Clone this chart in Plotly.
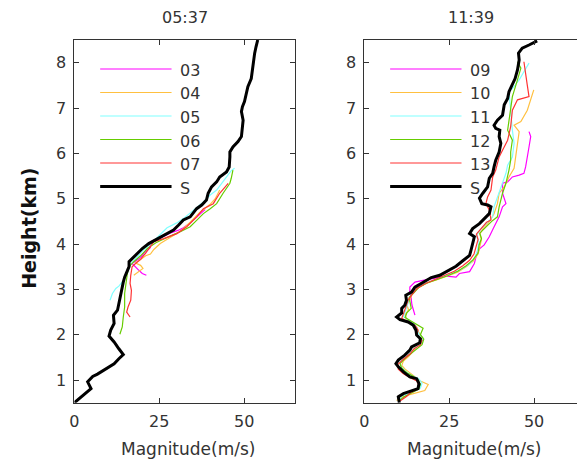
import plotly.graph_objects as go

# ---- profile data (magnitude in m/s vs height in km) ----
# Panel 05:37
s1_x = [0, 2.4, 4.9, 3.9, 5.4, 6.8, 8.8, 11.7, 13.1, 14.4, 13.1, 11.7, 10.2, 10.7, 11.7, 11.5, 12.7, 13.1, 13.6, 13.8,
        14.4, 14.8, 15.6, 16.1, 16.1, 17.0, 18.5, 20.0, 21.9, 23.4, 25.3, 27.3, 29.2, 30.7, 32.1, 34.1, 36.0, 37.5, 38.9, 39.4,
        40.4, 41.9, 42.8, 44.8, 45.6, 45.8, 45.8, 46.7, 48.2, 49.2, 49.5, 49.7, 49.2, 49.5, 50.1, 50.6, 51.1, 52.1, 52.4, 52.8,
        53.1, 53.5, 54.0]
s1_y = [0.5, 0.66, 0.81, 0.96, 1.08, 1.13, 1.22, 1.36, 1.47, 1.56, 1.69, 1.84, 1.97, 2.10, 2.25, 2.43, 2.54, 2.69, 2.83, 2.98,
        3.16, 3.27, 3.39, 3.50, 3.61, 3.68, 3.79, 3.90, 4.01, 4.07, 4.16, 4.23, 4.31, 4.42, 4.53, 4.60, 4.78, 4.86, 4.97, 5.12,
        5.26, 5.37, 5.48, 5.59, 5.70, 5.92, 6.03, 6.14, 6.26, 6.37, 6.59, 6.73, 6.92, 7.03, 7.14, 7.29, 7.47, 7.65, 7.84, 8.02,
        8.21, 8.35, 8.5]

p03_x = [21.2, 20.0, 19.0, 17.7, 17.0, 18.0, 19.5, 20.5, 22.4, 22.0, 23.0, 25.5, 28.2, 30.5, 32.1, 34.0, 35.5, 37.0, 38.5]
p03_y = [3.31, 3.35, 3.42, 3.51, 3.57, 3.62, 3.70, 3.80, 3.92, 4.02, 4.07, 4.14, 4.24, 4.30, 4.36, 4.46, 4.55, 4.66, 4.76]

p04_x = [17.5, 19.0, 20.2, 19.5, 18.0, 19.5, 21.0, 22.4, 23.4, 25.3, 28.2, 31.2, 34.1, 37.0, 39.9, 41.5, 42.8]
p04_y = [3.31, 3.39, 3.46, 3.53, 3.58, 3.66, 3.74, 3.78, 3.88, 4.01, 4.14, 4.28, 4.48, 4.70, 4.87, 5.00, 5.19]

p05_x = [10.5, 11.2, 12.2, 13.1, 14.5, 15.8, 16.5, 18.0, 20.5, 23.0, 25.5, 27.3, 30.0, 32.1, 35.0, 38.0, 40.0, 41.9,
         43.5, 44.8, 46.2, 47.2]
p05_y = [2.76, 2.91, 3.02, 3.07, 3.20, 3.40, 3.55, 3.68, 3.88, 4.04, 4.22, 4.36, 4.46, 4.56, 4.74, 4.93, 5.08, 5.19,
         5.35, 5.48, 5.62, 5.67]

p06_x = [13.4, 14.1, 14.4, 14.8, 14.8, 15.1, 15.6, 16.1, 17.5, 19.5, 21.5, 24.0, 27.0, 29.5, 31.2, 34.1, 36.0, 38.0,
         40.0, 41.9, 43.8, 45.8, 46.2, 46.7]
p06_y = [2.01, 2.17, 2.39, 2.61, 2.91, 3.13, 3.35, 3.50, 3.61, 3.74, 3.90, 4.03, 4.14, 4.22, 4.27, 4.38, 4.52, 4.67,
         4.78, 4.89, 5.12, 5.34, 5.45, 5.63]

p07_x = [16.4, 15.4, 15.8, 16.6, 16.8, 16.4, 16.6, 17.0, 18.0, 19.5, 21.0, 22.5, 23.4, 26.3, 30.2, 33.1, 36.0, 38.0,
         40.9, 42.8, 45.3]
p07_y = [2.39, 2.50, 2.61, 2.76, 2.98, 3.13, 3.31, 3.50, 3.57, 3.66, 3.80, 3.96, 4.05, 4.12, 4.23, 4.38, 4.60, 4.78,
         4.89, 5.12, 5.34]

# Panel 11:39
s2_x = [10.3, 10.0, 11.5, 13.9, 15.8, 16.1, 15.4, 13.4, 11.5, 10.0, 9.3, 10.0, 11.9, 13.4, 13.9, 16.3, 16.5, 15.4, 15.2, 14.4,
        12.9, 10.5, 9.5, 11.0, 11.0, 11.9, 12.4, 12.2, 13.9, 14.9, 17.3, 19.7, 22.2, 24.6, 27.0, 29.0, 31.0, 31.4, 31.9, 32.4,
        31.0, 31.9, 33.9, 35.3, 36.8, 37.3, 36.3, 34.6, 33.9, 34.9, 36.3, 36.8, 37.8, 38.2, 38.7, 39.7, 40.2, 39.7, 39.9, 38.7,
        38.2, 39.2, 40.7, 41.2, 42.2, 42.6, 43.6, 44.4, 45.1, 45.6, 45.4, 46.5, 48.5, 50.9]
s2_y = [0.5, 0.63, 0.70, 0.76, 0.81, 0.92, 1.03, 1.07, 1.18, 1.29, 1.36, 1.44, 1.55, 1.66, 1.73, 1.82, 1.91, 1.99, 2.10, 2.21,
        2.28, 2.33, 2.39, 2.48, 2.58, 2.65, 2.76, 2.87, 2.94, 3.05, 3.16, 3.26, 3.31, 3.41, 3.51, 3.63, 3.75, 3.86, 4.01, 4.16,
        4.23, 4.34, 4.45, 4.56, 4.67, 4.82, 4.86, 4.89, 5.01, 5.12, 5.26, 5.45, 5.56, 5.70, 5.85, 6.03, 6.22, 6.37, 6.51, 6.55,
        6.62, 6.73, 6.84, 7.07, 7.21, 7.36, 7.51, 7.65, 7.84, 8.06, 8.21, 8.32, 8.39, 8.48]

p09_x = [14.9, 14.4, 14.0, 13.8, 13.4, 13.4, 14.9, 17.3, 21.2, 24.1, 27.0, 28.0, 31.0, 32.4, 33.0, 34.0, 35.3, 36.8,
         38.0, 39.2, 39.7, 40.7, 41.7, 40.7, 40.7, 42.2, 43.6, 45.6, 47.0, 47.5, 48.0, 48.5, 49.0, 48.5]
p09_y = [2.43, 2.54, 2.66, 2.80, 2.94, 3.05, 3.16, 3.20, 3.26, 3.29, 3.27, 3.35, 3.39, 3.57, 3.75, 3.90, 3.98, 4.16,
         4.35, 4.53, 4.60, 4.82, 4.89, 5.12, 5.34, 5.37, 5.48, 5.52, 5.56, 5.70, 5.89, 6.14, 6.37, 6.48]

p10_x = [9.5, 11.5, 17.8, 18.8, 16.5, 15.0, 13.5, 12.0, 11.0, 11.5, 13.0, 14.5, 15.0, 16.8, 17.0, 16.0, 15.5, 14.5,
         12.5, 12.0, 13.0, 12.5, 13.5, 14.0, 15.5, 18.0, 21.0, 24.0, 27.5, 30.0, 32.0, 33.5, 34.0, 34.5, 34.0, 35.0,
         36.5, 38.2, 39.2, 39.7, 41.2, 42.6, 44.1, 44.6, 45.1, 45.6, 44.1, 46.1, 48.0, 49.0, 49.9]
p10_y = [0.55, 0.64, 0.77, 0.90, 0.98, 1.06, 1.14, 1.24, 1.32, 1.42, 1.52, 1.64, 1.74, 1.84, 1.95, 2.05, 2.16, 2.26,
         2.34, 2.44, 2.55, 2.66, 2.78, 2.90, 3.02, 3.13, 3.20, 3.28, 3.38, 3.50, 3.62, 3.78, 3.95, 4.10, 4.22, 4.34,
         4.46, 4.67, 4.89, 5.12, 5.26, 5.48, 5.67, 5.92, 6.14, 6.48, 6.62, 6.70, 6.95, 7.18, 7.40]

p11_x = [10.5, 11.0, 14.5, 16.5, 17.0, 16.0, 14.0, 12.0, 10.8, 10.5, 12.5, 14.0, 15.0, 17.0, 17.3, 16.0, 15.5, 14.8,
         13.0, 11.5, 12.0, 12.5, 13.0, 13.5, 14.8, 16.5, 19.5, 22.5, 25.5, 28.5, 31.0, 32.5, 33.3, 33.8, 33.0, 34.0,
         35.5, 37.8, 38.2, 39.2, 40.7, 41.7, 42.2, 43.6, 44.1, 43.6, 43.1, 42.6, 43.6, 45.6, 47.0, 48.5]
p11_y = [0.55, 0.65, 0.74, 0.82, 0.93, 1.03, 1.10, 1.20, 1.30, 1.40, 1.52, 1.63, 1.72, 1.82, 1.93, 2.02, 2.14, 2.24,
         2.32, 2.40, 2.50, 2.62, 2.74, 2.85, 2.96, 3.08, 3.18, 3.26, 3.34, 3.44, 3.56, 3.70, 3.86, 4.04, 4.18, 4.30,
         4.42, 4.60, 4.82, 5.04, 5.34, 5.56, 5.74, 5.92, 6.22, 6.51, 6.95, 7.36, 7.43, 7.62, 7.80, 7.99]

p12_x = [10.0, 11.5, 14.0, 16.0, 16.5, 15.8, 14.5, 12.5, 11.0, 10.5, 12.0, 14.0, 15.5, 17.0, 17.5, 16.5, 17.3, 15.5,
         13.8, 12.0, 12.5, 13.8, 13.5, 13.2, 14.5, 16.0, 18.5, 21.5, 24.5, 27.5, 30.0, 32.0, 33.5, 33.8, 34.5, 34.0,
         35.5, 37.5, 39.2, 39.7, 40.7, 41.7, 42.6, 43.1, 43.1, 43.6, 42.2, 42.6, 43.1, 43.6, 45.1, 46.1, 45.1]
p12_y = [0.52, 0.62, 0.72, 0.80, 0.90, 1.00, 1.08, 1.16, 1.26, 1.36, 1.48, 1.60, 1.70, 1.78, 1.90, 2.00, 2.14, 2.22,
         2.30, 2.38, 2.48, 2.58, 2.70, 2.82, 2.92, 3.04, 3.14, 3.22, 3.30, 3.40, 3.52, 3.65, 3.80, 3.98, 4.12, 4.24,
         4.36, 4.50, 4.60, 4.82, 5.12, 5.34, 5.63, 5.85, 6.03, 6.29, 6.51, 6.73, 7.03, 7.25, 7.62, 7.88, 8.02]

p13_x = [10.5, 12.5, 13.5, 15.5, 16.0, 15.5, 13.5, 11.5, 10.0, 9.8, 11.5, 13.5, 14.5, 16.5, 17.0, 15.5, 15.8, 15.0,
         13.0, 11.0, 11.5, 12.0, 12.5, 13.0, 14.2, 15.5, 18.0, 20.8, 23.5, 26.5, 29.0, 31.0, 32.3, 33.0, 33.5, 33.0,
         34.5, 36.0, 37.3, 36.8, 35.8, 36.3, 37.3, 37.8, 38.7, 39.7, 40.7, 42.2, 43.1, 43.6, 45.1, 48.5, 48.0, 47.5, 47.0]
p13_y = [0.54, 0.64, 0.72, 0.79, 0.88, 0.98, 1.05, 1.14, 1.24, 1.34, 1.46, 1.58, 1.68, 1.78, 1.88, 1.98, 2.10, 2.20,
         2.28, 2.36, 2.46, 2.56, 2.66, 2.78, 2.90, 3.02, 3.13, 3.22, 3.30, 3.40, 3.52, 3.64, 3.78, 3.94, 4.10, 4.22,
         4.36, 4.48, 4.53, 4.75, 4.89, 5.04, 5.19, 5.48, 5.63, 5.92, 6.07, 6.29, 6.59, 6.95, 7.18, 7.25, 7.50, 7.75, 8.02]

# series labels and colours
left_names = ["03", "04", "05", "06", "07", "S"]
right_names = ["09", "10", "11", "12", "13", "S"]
colors = ["#ff00ff", "#ffc040", "#80ffff", "#66cc00", "#ff3333", "#000000"]
widths = [1.2, 1.2, 1.2, 1.2, 1.2, 3]

panel_titles = ["05:37", "11:39"]
x_ticks = [0, 25, 50]
y_ticks = [1, 2, 3, 4, 5, 6, 7, 8]

W, H = 577, 461
L1, R1 = 70, 292.6     # left panel edges (px)
L2, R2 = 362.5, 577    # right panel edges (px)
TOP, BOT = 40, 402.7

left_series = [(p03_x, p03_y), (p04_x, p04_y), (p05_x, p05_y), (p06_x, p06_y), (p07_x, p07_y), (s1_x, s1_y)]
right_series = [(p09_x, p09_y), (p10_x, p10_y), (p11_x, p11_y), (p12_x, p12_y), (p13_x, p13_y), (s2_x, s2_y)]

fig = go.Figure()
for (xs, ys), c, w, n in zip(left_series, colors, widths, left_names):
    fig.add_trace(go.Scatter(x=xs, y=ys, mode="lines", name=n, line=dict(color=c, width=w),
                             xaxis="x", yaxis="y", showlegend=False))
for (xs, ys), c, w, n in zip(right_series, colors, widths, right_names):
    fig.add_trace(go.Scatter(x=xs, y=ys, mode="lines", name=n, line=dict(color=c, width=w),
                             xaxis="x2", yaxis="y2", showlegend=False))

tick_font = dict(family="DejaVu Sans", size=16, color="#333333")
axis_common = dict(showline=True, linecolor="#333333", linewidth=1,
                   ticks="inside", ticklen=5, tickcolor="#333333", showgrid=False,
                   zeroline=False, tickfont=tick_font)

fig.update_layout(
    width=W, height=H, margin=dict(l=0, r=0, t=0, b=0),
    paper_bgcolor="white", plot_bgcolor="white",
    xaxis=dict(domain=[L1 / W, R1 / W], range=[0, 65], tickvals=x_ticks, anchor="y",
               mirror="ticks", ticklabelstandoff=4, **axis_common),
    yaxis=dict(domain=[1 - BOT / H, 1 - TOP / H], range=[0.5, 8.5], tickvals=y_ticks, anchor="x",
               mirror="ticks", ticklabelstandoff=4, **axis_common),
    # the right panel runs to the page edge, so its right-hand frame line is left off
    xaxis2=dict(domain=[L2 / W, R2 / W], range=[0, (R2 - L2) / (R1 - L1) * 65], tickvals=x_ticks,
                anchor="y2", mirror="ticks", ticklabelstandoff=4, **axis_common),
    yaxis2=dict(domain=[1 - BOT / H, 1 - TOP / H], range=[0.5, 8.5], tickvals=y_ticks, anchor="x2",
                mirror=False, ticklabelstandoff=4, **axis_common),
)

# panel titles, axis titles
label_font = dict(family="DejaVu Sans", size=15, color="#333333")
for title, cx in zip(panel_titles, [(L1 + R1) / 2, (L2 + R2) / 2]):
    fig.add_annotation(text=title, x=cx / W, y=1 - 17 / H, xref="paper", yref="paper",
                       xanchor="center", yanchor="middle", showarrow=False,
                       font=dict(family="DejaVu Sans", size=16, color="#333333"))
    fig.add_annotation(text="Magnitude(m/s)", x=(cx + 3) / W, y=1 - 449 / H, xref="paper", yref="paper",
                       xanchor="center", yanchor="middle", showarrow=False,
                       font=dict(family="DejaVu Sans", size=17, color="#333333"))
fig.add_annotation(text="<b>Height(km)</b>", x=24 / W, y=1 - 228 / H, xref="paper", yref="paper",
                   xanchor="center", yanchor="middle", showarrow=False, textangle=-90,
                   font=dict(family="DejaVu Sans", size=19, color="#111111"))

# in-panel legends
row_px = [69, 92.5, 116, 139.5, 163, 186.5]
for left_px, names in [(L1, left_names), (L2, right_names)]:
    for name, c, w, ry in zip(names, colors, widths, row_px):
        fig.add_shape(type="line", xref="paper", yref="paper",
                      x0=(left_px + 26) / W, x1=(left_px + 98) / W,
                      y0=1 - ry / H, y1=1 - ry / H, line=dict(color=c, width=w))
        fig.add_annotation(text=name, x=(left_px + 105) / W, y=1 - (ry + 1.5) / H,
                           xref="paper", yref="paper", xanchor="left", yanchor="middle",
                           showarrow=False, font=dict(family="DejaVu Sans", size=16, color="#333333"))

fig.write_html("out.html")
